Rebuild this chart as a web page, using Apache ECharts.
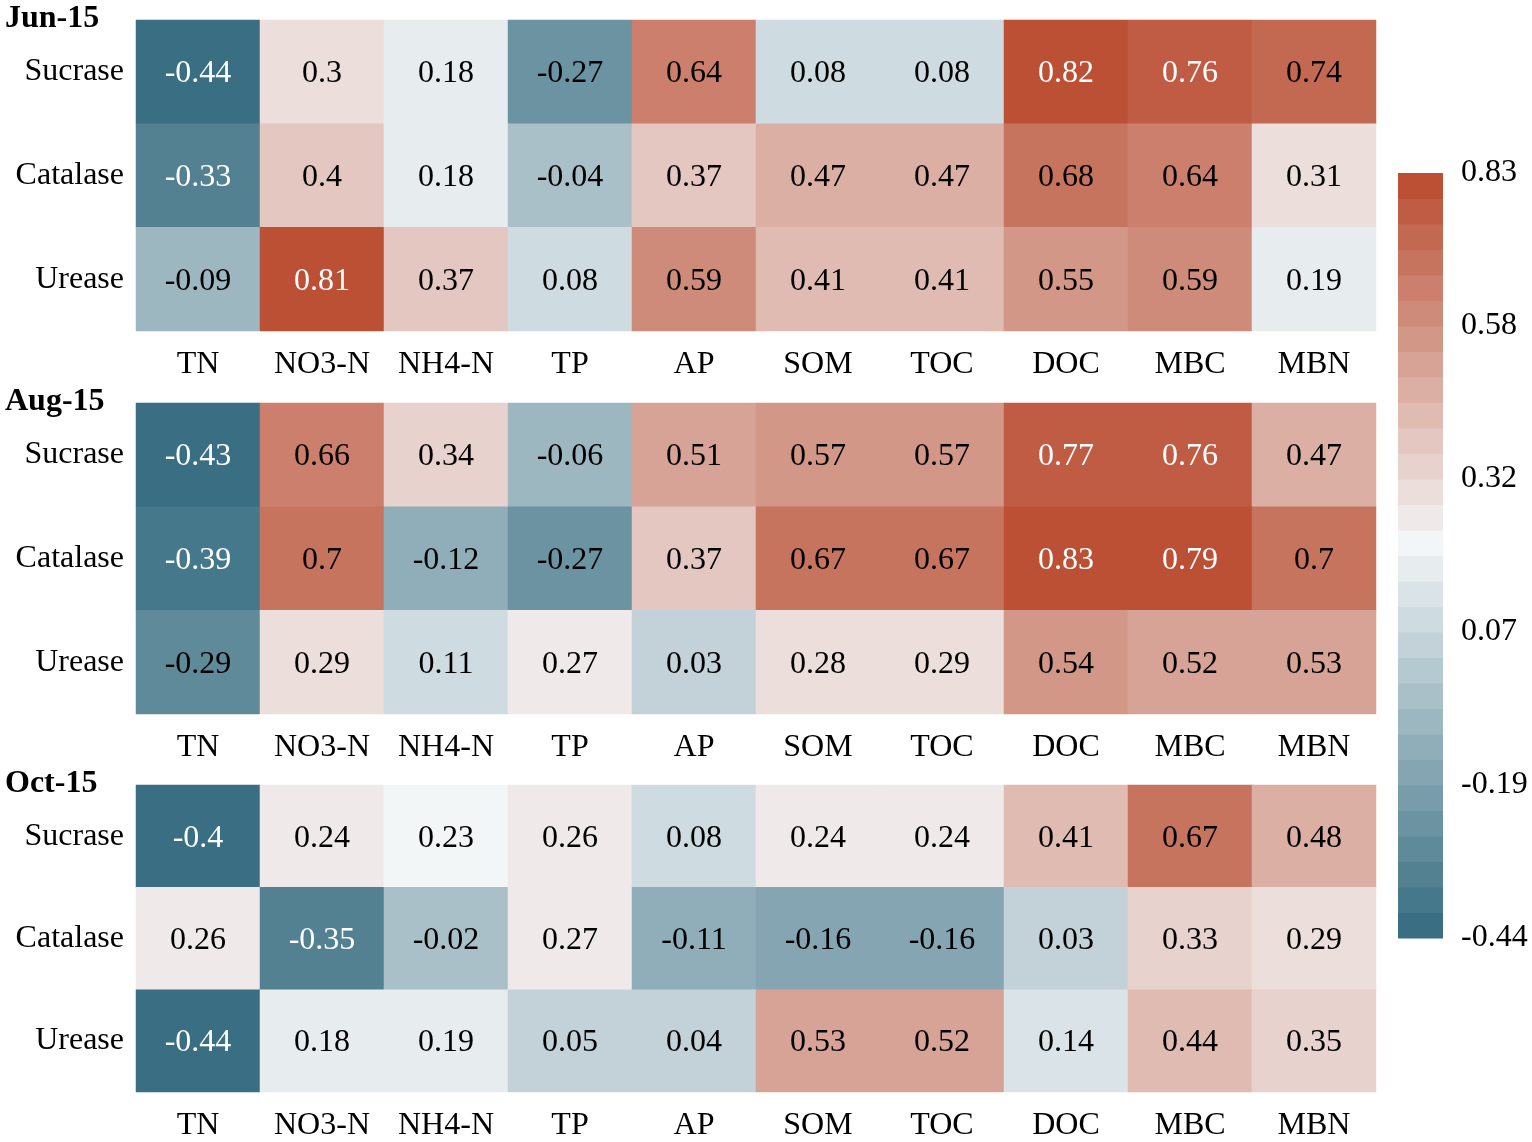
<!DOCTYPE html>
<html>
<head>
<meta charset="utf-8">
<script src="https://cdn.jsdelivr.net/npm/echarts@6/dist/echarts.min.js"></script>
<style>
  html, body { margin: 0; padding: 0; background: #fff; }
  #chart { width: 1532px; height: 1142px; }
</style>
</head>
<body>
<div id="chart"></div>
<script>
// soil properties (columns) and enzymes (rows)
const properties = ['TN', 'NO3-N', 'NH4-N', 'TP', 'AP', 'SOM', 'TOC', 'DOC', 'MBC', 'MBN'];
const enzymes = ['Sucrase', 'Catalase', 'Urease'];
const panelTitles = ['Jun-15', 'Aug-15', 'Oct-15'];

// correlation values, one row per enzyme
const jun15 = [
    [-0.44, 0.3, 0.18, -0.27, 0.64, 0.08, 0.08, 0.82, 0.76, 0.74],
    [-0.33, 0.4, 0.18, -0.04, 0.37, 0.47, 0.47, 0.68, 0.64, 0.31],
    [-0.09, 0.81, 0.37, 0.08, 0.59, 0.41, 0.41, 0.55, 0.59, 0.19]
];
const aug15 = [
    [-0.43, 0.66, 0.34, -0.06, 0.51, 0.57, 0.57, 0.77, 0.76, 0.47],
    [-0.39, 0.7, -0.12, -0.27, 0.37, 0.67, 0.67, 0.83, 0.79, 0.7],
    [-0.29, 0.29, 0.11, 0.27, 0.03, 0.28, 0.29, 0.54, 0.52, 0.53]
];
const oct15 = [
    [-0.4, 0.24, 0.23, 0.26, 0.08, 0.24, 0.24, 0.41, 0.67, 0.48],
    [0.26, -0.35, -0.02, 0.27, -0.11, -0.16, -0.16, 0.03, 0.33, 0.29],
    [-0.44, 0.18, 0.19, 0.05, 0.04, 0.53, 0.52, 0.14, 0.44, 0.35]
];

// colour bar
const vMin = -0.44;
const vMax = 0.83;
const nBands = 30;
const barTicks = ['-0.44', '-0.19', '0.07', '0.32', '0.58', '0.83'];

const FONT = '"Liberation Serif", "Times New Roman", serif';

// diverging palette: teal -> near white -> brick red
const neg = [58, 111, 131], mid = [243, 246, 247], pos = [187, 80, 53];
const midBand = 15;
function lerp(a, b, t) {
    return a.map((v, i) => Math.round(v + (b[i] - v) * t));
}
const palette = [];
for (let i = 0; i < nBands; i++) {
    palette.push(i <= midBand
        ? lerp(neg, mid, i / midBand)
        : lerp(mid, pos, (i - midBand) / (nBands - 1 - midBand)));
}
const toCss = c => 'rgb(' + c.join(',') + ')';

function bandOf(v) {
    let k = Math.floor((v - vMin) / (vMax - vMin) * nBands + 1e-9);
    return Math.max(0, Math.min(nBands - 1, k));
}

function cellData(rows) {
    const out = [];
    rows.forEach((row, y) => {
        row.forEach((v, x) => {
            const c = palette[bandOf(v)];
            const lum = (0.299 * c[0] + 0.587 * c[1] + 0.114 * c[2]) / 255;
            out.push({
                value: [x, y, v],
                itemStyle: { color: toCss(c) },
                label: { color: lum < 0.48 ? '#fff' : '#000' }
            });
        });
    });
    return out;
}

const panels = [jun15, aug15, oct15];
const panelTops = [20, 403, 785];
const panelHeight = 311;

const grids = [], xAxes = [], yAxes = [], series = [], titles = [];

panels.forEach((rows, i) => {
    grids.push({ left: 136, top: panelTops[i], width: 1240, height: panelHeight });
    xAxes.push({
        type: 'category', gridIndex: i, data: properties, position: 'bottom',
        axisLine: { show: false }, axisTick: { show: false }, splitArea: { show: false },
        axisLabel: { fontFamily: FONT, fontSize: 32, color: '#000', margin: 18, interval: 0 }
    });
    yAxes.push({
        type: 'category', gridIndex: i, data: enzymes, inverse: true,
        axisLine: { show: false }, axisTick: { show: false }, splitArea: { show: false },
        axisLabel: { fontFamily: FONT, fontSize: 32, color: '#000', margin: 12, interval: 0 }
    });
    series.push({
        type: 'heatmap', xAxisIndex: i, yAxisIndex: i,
        data: cellData(rows),
        label: {
            show: true, fontFamily: FONT, fontSize: 32, offset: [0, 2],
            formatter: p => String(p.value[2])
        },
        emphasis: { disabled: true }
    });
    titles.push({
        text: panelTitles[i], left: 5, top: panelTops[i] - 17, padding: 0,
        textStyle: { fontFamily: FONT, fontSize: 32, fontWeight: 'bold', color: '#000' }
    });
});

// colour bar grid
grids.push({ left: 1398, top: 173, width: 45, height: 765 });
xAxes.push({ type: 'value', gridIndex: 3, min: 0, max: 1, show: false });
yAxes.push({
    type: 'value', gridIndex: 3, min: 0, max: nBands, interval: 6, position: 'right',
    axisLine: { show: false }, axisTick: { show: false }, splitLine: { show: false },
    axisLabel: {
        fontFamily: FONT, fontSize: 32, color: '#000', margin: 18,
        formatter: v => barTicks[Math.round(v / 6)]
    }
});
series.push({
    type: 'custom', xAxisIndex: 3, yAxisIndex: 3,
    data: palette.map((c, i) => [i]),
    renderItem: (params, api) => {
        const i = api.value(0);
        const p0 = api.coord([0, i + 1]);
        const p1 = api.coord([1, i]);
        return {
            type: 'rect',
            shape: { x: p0[0], y: p0[1], width: p1[0] - p0[0], height: p1[1] - p0[1] + 0.5 },
            style: { fill: toCss(palette[i]) }
        };
    },
    silent: true
});

const chart = echarts.init(document.getElementById('chart'));
chart.setOption({
    backgroundColor: '#fff',
    animation: false,
    title: titles,
    grid: grids,
    xAxis: xAxes,
    yAxis: yAxes,
    series: series
});
</script>
</body>
</html>
